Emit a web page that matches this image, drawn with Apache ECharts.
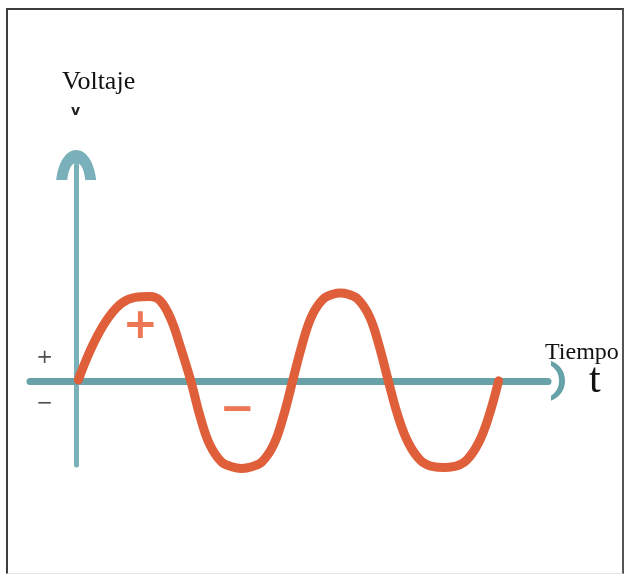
<!DOCTYPE html>
<html>
<head>
<meta charset="utf-8">
<script src="https://cdn.jsdelivr.net/npm/echarts@6/dist/echarts.min.js"></script>
<style>
html,body{margin:0;padding:0;background:#fff;}
#chart{width:625px;height:576px;}
#frame{position:absolute;left:6px;top:8px;width:614px;height:563px;border-left:2px solid #3c3c3c;border-top:2px solid #3c3c3c;border-right:2px solid #555;border-bottom:1px solid #e4e4e4;pointer-events:none;}
</style>
</head>
<body>
<div id="chart"></div>
<div id="frame"></div>
<script>
// tiempo (medio periodo ~ 1) y voltaje (amplitud ~ 1)
var timeVals = [0.02, 0.10, 0.20, 0.31, 0.43, 0.56, 0.70, 0.80, 0.90, 0.99, 1.09,
  1.18, 1.27, 1.38, 1.48, 1.575, 1.67, 1.77, 1.88, 1.97, 2.06,
  2.15, 2.24, 2.35, 2.45, 2.515, 2.58, 2.68, 2.79, 2.88, 2.97,
  3.06, 3.16, 3.28, 3.40, 3.495, 3.59, 3.71, 3.83, 3.93, 4.02];
var voltVals = [0.01, 0.26, 0.52, 0.74, 0.90, 0.97, 0.98, 0.93, 0.72, 0.40, 0,
  -0.42, -0.74, -0.94, -1.0, -1.02, -1.0, -0.94, -0.74, -0.42, 0,
  0.42, 0.75, 0.95, 1.01, 1.02, 1.01, 0.95, 0.75, 0.42, 0,
  -0.40, -0.72, -0.93, -1.0, -1.01, -1.0, -0.93, -0.72, -0.40, 0];

// signos junto al eje vertical
var axisSigns = ['+', '−'];
var axisSignX = [-0.30, -0.30];
var axisSignY = [0.27, -0.27];

// signos dentro de los semiciclos
var halfSigns = ['+', '−'];
var halfSignX = [0.61, 1.53];
var halfSignY = [0.63, -0.35];

var chart = echarts.init(document.getElementById('chart'));

var titleFont = {fontFamily: 'Liberation Serif', fontWeight: 'normal', color: '#111'};

var option = {
  backgroundColor: '#fff',
  animation: false,
  title: [
    {text: 'Voltaje', left: 62, top: 69, padding: 0, textStyle: Object.assign({fontSize: 26}, titleFont)},
    {text: 'v', left: 71, top: 104, padding: 0, textStyle: {fontFamily: 'DejaVu Sans', fontWeight: 'bold', fontSize: 14, color: '#222'}},
    {text: 'Tiempo', left: 545, top: 341, padding: 0, textStyle: Object.assign({fontSize: 24}, titleFont)},
    {text: 't', left: 589, top: 360, padding: 0, textStyle: Object.assign({fontSize: 42}, titleFont)}
  ],
  grid: {left: 30, right: 77, top: 165, bottom: 111},
  xAxis: {
    type: 'value',
    min: -0.44,
    max: 4.49,
    axisLine: {
      onZero: true,
      lineStyle: {color: '#67a2a8', width: 7},
      symbol: ['none', 'path://M0,14 C4,4 12,0 20,0 C28,0 36,4 40,14 L35,14 C31,8 26,6 20,6 C14,6 9,8 5,14 Z'],
      symbolSize: [42, 14],
      symbolOffset: [0, 10]
    },
    axisTick: {show: false},
    axisLabel: {show: false},
    splitLine: {show: false}
  },
  yAxis: {
    type: 'value',
    min: -0.98,
    max: 2.51,
    axisLine: {
      onZero: true,
      lineStyle: {color: '#79b0ba', width: 5},
      symbol: ['none', 'path://M0,30 C2,12 10,0 20,0 C30,0 38,12 40,30 L29,30 C28,20 25,13 20,13 C15,13 12,20 11,30 Z'],
      symbolSize: [46, 30],
      symbolOffset: [0, 0]
    },
    axisTick: {show: false},
    axisLabel: {show: false},
    splitLine: {show: false}
  },
  series: [
    {
      type: 'line',
      data: timeVals.map(function (t, i) { return [t, voltVals[i]]; }),
      smooth: 0.4,
      showSymbol: false,
      clip: false,
      lineStyle: {color: '#df5f3b', width: 9, cap: 'round'}
    },
    {
      type: 'scatter',
      data: axisSigns.map(function (s, i) { return {value: [axisSignX[i], axisSignY[i]], name: s}; }),
      symbolSize: 1,
      itemStyle: {color: 'rgba(0,0,0,0)'},
      label: {show: true, position: 'inside', formatter: '{b}', color: '#222', fontSize: 20, fontFamily: 'DejaVu Sans'}
    },
    {
      type: 'scatter',
      data: halfSigns.map(function (s, i) { return {value: [halfSignX[i], halfSignY[i]], name: s}; }),
      symbolSize: 1,
      itemStyle: {color: 'rgba(0,0,0,0)'},
      label: {show: true, position: 'inside', formatter: '{b}', color: '#e8542a', fontSize: 42, fontWeight: 'bold', fontFamily: 'DejaVu Sans'}
    }
  ]
};

chart.setOption(option);
</script>
</body>
</html>
